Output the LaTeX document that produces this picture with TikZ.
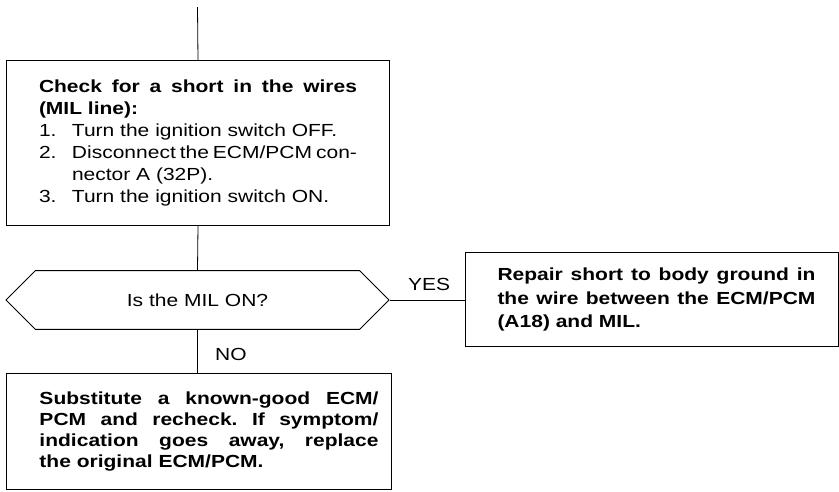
\documentclass[tikz,border=0pt]{standalone}
\usepackage{fontspec}
\setmainfont{Liberation Sans}[FakeStretch=1.2]
\usetikzlibrary{shapes.misc}
\newcommand{\stepitem}[1]{\par\hangindent=33pt\hangafter=1\makebox[33pt][l]{#1}}
\frenchspacing

\begin{document}
\begin{tikzpicture}[x=1pt,y=-1pt,
		stepbox/.style={draw,line width=1pt,align=justify,anchor=north west,inner ysep=0pt,
			font={\fontsize{17.5}{#1}\selectfont\parindent=0pt}},
		stepbox/.default=21.5,
		link/.style={line width=0.8pt},
		tag/.style={font=\fontsize{17.5}{20}\selectfont,anchor=base west,inner sep=0pt}]
			\useasboundingbox (0,0) rectangle (839,491);
			% process boxes
			\node[stepbox=22,text width=318pt,inner xsep=32.5pt,minimum height=165pt] (check) at (6,60)
				{\textbf{Check for a short in the wires\linebreak (MIL line):}
				\stepitem{1.}Turn the ignition switch OFF.
				\stepitem{2.}Disconnect the ECM/PCM con-\linebreak nector A (32P).
				\stepitem{3.}Turn the ignition switch ON.\par};
			\node[stepbox=23.5,text width=327pt,inner xsep=23pt,minimum height=94pt] (repair) at (465,252)
				{\hangindent=9pt\hangafter=0\bfseries Repair short to body ground in\linebreak the wire between the ECM/PCM\linebreak (A18) and MIL.\par};
			\node[stepbox=20.8,text width=359pt,inner xsep=13pt,minimum height=116pt] (swap) at (6,373)
				{\hangindent=20pt\hangafter=0\bfseries Substitute a known-good ECM/\linebreak PCM and recheck. If symptom/\linebreak indication goes away, replace\linebreak the original ECM/PCM.\par};
			% decision
			\node[draw,line width=1pt,chamfered rectangle,chamfered rectangle xsep=31pt,chamfered rectangle ysep=23pt,
				minimum width=383pt,minimum height=46pt,inner sep=0pt,font=\fontsize{17.5}{20}\selectfont] (ask) at (197.5,300) {Is the MIL ON?};
			\node[tag] (yes) at (408,290) {YES};
			\node[tag] (no) at (215,360) {NO};
			% connectors
			\coordinate (entry) at (197.5,7);
			\draw[link] (entry) -- (check.north);
			\draw[link] (check.south) -- (ask.north);
			\draw[link] (ask.south) -- (ask.south |- swap.north);
			\draw[link] (ask.east) -- (ask.east -| repair.west);
			\end{tikzpicture}
\end{document}
